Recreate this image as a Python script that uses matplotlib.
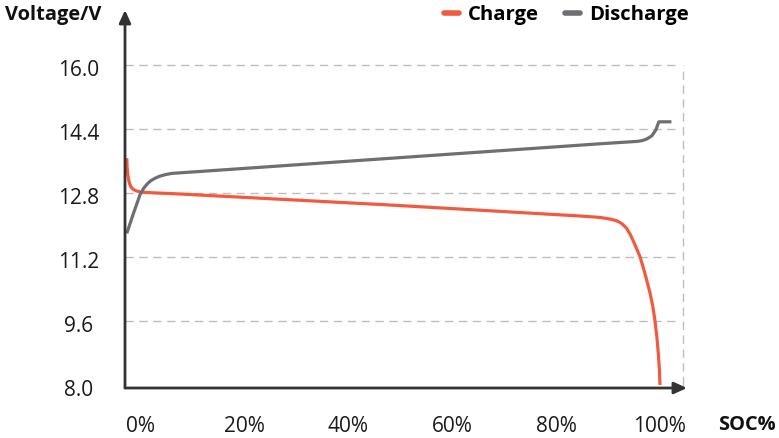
import matplotlib
matplotlib.use("Agg")
import matplotlib.pyplot as plt
from matplotlib.transforms import ScaledTranslation

# ---- data ----
charge_soc = [-2.66, -2.6, -2.45, -2.2, -1.9, -1.5, -0.9, 0.0, 1.5, 7.6, 48.0, 84.6,
              88.4, 90.3, 91.6, 92.6, 93.5, 94.3, 95.2, 96.15, 97.1, 98.1, 98.6,
              99.0, 99.4, 99.7, 99.9, 100.0]
charge_v = [13.67, 13.45, 13.25, 13.07, 12.96, 12.9, 12.855, 12.825, 12.81, 12.775, 12.5, 12.225,
            12.19, 12.15, 12.11, 12.04, 11.93, 11.76, 11.5, 11.21, 10.79, 10.29, 9.98,
            9.64, 9.2, 8.75, 8.35, 8.0]

discharge_soc = [-2.66, -1.4, -0.1, 0.6, 1.3, 2.0, 2.8, 3.7, 4.8, 6.0, 17.2, 88.4,
                 95.6, 96.6, 97.44, 98.4, 99.2, 99.77, 102.2]
discharge_v = [11.79, 12.28, 12.76, 12.92, 13.03, 13.11, 13.17, 13.22, 13.26, 13.29, 13.39, 14.03,
               14.09, 14.11, 14.15, 14.225, 14.375, 14.58, 14.58]

y_ticks = [8.0, 9.6, 11.2, 12.8, 14.4, 16.0]
y_tick_labels = ["8.0", "9.6", "11.2", "12.8", "14.4", "16.0"]
x_ticks = [0, 20, 40, 60, 80, 100]
x_tick_labels = ["0%", "20%", "40%", "60%", "80%", "100%"]
series_names = ["Charge", "Discharge"]

# ---- style ----
ORANGE = "#f15a3f"
GRAY = "#6e6e73"
AXIS = "#333333"
GRID = "#bdbdbd"
FONT = "Open Sans"

W, H, DPI = 779, 438, 100
fig = plt.figure(figsize=(W / DPI, H / DPI), dpi=DPI)

ax_l, ax_r, ax_b, ax_t = 125, 687, 388, 10  # pixel geometry
ax = fig.add_axes([ax_l / W, 1 - ax_b / H, (ax_r - ax_l) / W, (ax_b - ax_t) / H])

x_min, x_max = -3.0, 105.2
y_min, y_max = 7.925, 17.375
grid_right = 104.4
ax.set_xlim(x_min, x_max)
ax.set_ylim(y_min, y_max)

for s in ax.spines.values():
    s.set_visible(False)

# grid
ax.hlines(y_ticks[1:], x_min, grid_right - 0.6, colors=GRID, linewidth=1,
          linestyles=(0, (6, 4)), zorder=1)
ax.vlines([grid_right], y_ticks[0], y_ticks[-1], colors=GRID, linewidth=1,
          linestyles=(0, (6, 4)), zorder=1)

# series
ax.plot(charge_soc, charge_v, color=ORANGE, lw=2.3, zorder=3,
        solid_capstyle="butt", solid_joinstyle="round", label=series_names[0])
ax.plot(discharge_soc, discharge_v, color=GRAY, lw=2.3, zorder=3,
        solid_capstyle="butt", solid_joinstyle="round", label=series_names[1])

# axes arrows
arrow = dict(arrowstyle="-|>,head_length=0.55,head_width=0.25", color=AXIS,
             lw=2.0, mutation_scale=14, shrinkA=0, shrinkB=0)
ax.annotate("", xy=(1, 0), xytext=(0, 0), xycoords="axes fraction",
            arrowprops=arrow, zorder=5, annotation_clip=False)
ax.annotate("", xy=(0, 1), xytext=(0, 0), xycoords="axes fraction",
            arrowprops=arrow, zorder=5, annotation_clip=False)

# ticks
ax.set_yticks(y_ticks)
ax.set_yticklabels(y_tick_labels, fontsize=15, family=FONT, color="#1a1a1a", ha="center")
ax.set_xticks(x_ticks)
ax.set_xticklabels(x_tick_labels, fontsize=15, family=FONT, color="#1a1a1a", va="center")
ax.tick_params(axis="y", length=0, pad=33.5)
ax.tick_params(axis="x", length=0, pad=27.5)
for lab in ax.get_yticklabels():
    lab.set_transform(lab.get_transform() + ScaledTranslation(0, -3 / 100, fig.dpi_scale_trans))

# titles
fig.text(5 / W, 1 - 15 / H, "Voltage/V", fontsize=14.4, fontweight="bold", family=FONT,
         ha="left", va="center", color="#111111")
fig.text(718 / W, 1 - 425 / H, "SOC%", fontsize=14.4, fontweight="bold", family=FONT,
         ha="left", va="center", color="#111111")

# legend
leg = ax.legend(loc="center left", bbox_to_anchor=(444 / W, 1 - 15 / H),
                bbox_transform=fig.transFigure, ncol=2, frameon=False,
                handlelength=0.75, handletextpad=0.45, columnspacing=1.25,
                borderpad=0, borderaxespad=0,
                prop=dict(family=FONT, weight="bold", size=14.6))
for line in leg.get_lines():
    line.set_linewidth(4)
    line.set_solid_capstyle("round")

fig.savefig("out.png", dpi=DPI)
